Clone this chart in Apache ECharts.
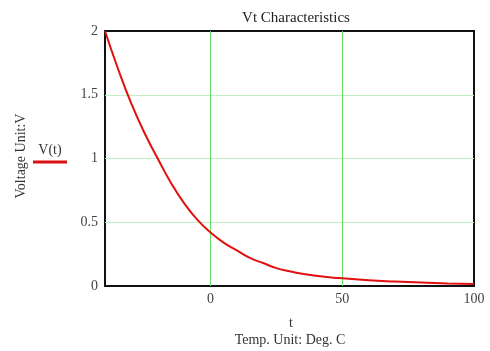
<!DOCTYPE html>
<html>
<head>
<meta charset="utf-8">
<script src="https://cdn.jsdelivr.net/npm/echarts@6/dist/echarts.min.js"></script>
<style>
    html, body {margin: 0; padding: 0; background: #fff;}
    #chart {width: 490px; height: 351px;}
</style>
</head>
<body>
<div id="chart"></div>
<script>
    // values
    const tValues = [-40, -35, -30, -25, -20, -15, -10, -5, 0, 5, 10, 15, 20, 25, 30, 40, 50, 60, 70, 80, 90, 100]
    const vValues = [2.00, 1.70, 1.43, 1.20, 1.00, 0.81, 0.65, 0.52, 0.42, 0.34, 0.28, 0.22, 0.18, 0.14, 0.115, 0.08, 0.06, 0.045, 0.035, 0.027, 0.02, 0.015]
    const xTicks = [0, 50, 100]
    const xGridLines = [0, 50]
    const yTicks = [0, 0.5, 1, 1.5, 2]
    const yGridLines = [0.5, 1, 1.5]

    const font = '"Liberation Serif", "DejaVu Serif", serif'
    const myChart = echarts.init(document.getElementById('chart'))

    myChart.setOption({
        animation: false,
        textStyle: {fontFamily: font},
        title: {
            text: 'Vt Characteristics',
            left: 291,
            textAlign: 'center',
            top: 6,
            textStyle: {fontFamily: font, fontSize: 15, fontWeight: 'normal', color: '#222'}
        },
        grid: {
            left: 105, right: 16, top: 31, bottom: 65,
            show: true, borderColor: '#111', borderWidth: 2
        },
        xAxis: {
            type: 'value',
            min: -40,
            max: 100,
            axisLine: {show: false},
            axisTick: {show: false, customValues: xGridLines},
            axisLabel: {customValues: xTicks, fontSize: 14, color: '#444', margin: 6},
            splitLine: {show: true, lineStyle: {color: '#66dd66', width: 1}}
        },
        yAxis: {
            type: 'value',
            min: 0,
            max: 2,
            axisLine: {show: false},
            axisTick: {show: false, customValues: yGridLines},
            axisLabel: {customValues: yTicks, fontSize: 14, color: '#444', margin: 7},
            splitLine: {show: true, lineStyle: {color: '#bfeebf', width: 1}}
        },
        graphic: [
            {type: 'text', x: 50, y: 150, style: {text: 'V(t)', font: '14px ' + font, fill: '#333', align: 'center', verticalAlign: 'middle'}},
            {type: 'line', shape: {x1: 33, y1: 162, x2: 67, y2: 162}, style: {stroke: '#dd1111', lineWidth: 3}},
            {type: 'text', x: 21, y: 156, rotation: Math.PI / 2, style: {text: 'Voltage Unit:V', font: '14px ' + font, fill: '#333', align: 'center', verticalAlign: 'middle'}},
            {type: 'text', x: 291, y: 323, style: {text: 't', font: '14px ' + font, fill: '#333', align: 'center', verticalAlign: 'middle'}},
            {type: 'text', x: 290, y: 340, style: {text: 'Temp. Unit: Deg. C', font: '14px ' + font, fill: '#333', align: 'center', verticalAlign: 'middle'}}
        ],
        series: [{
            name: 'V(t)',
            type: 'line',
            smooth: true,
            showSymbol: false,
            data: tValues.map((t, i) => [t, vValues[i]]),
            lineStyle: {color: '#e01010', width: 2},
            itemStyle: {color: '#e01010'}
        }]
    })
</script>
</body>
</html>
